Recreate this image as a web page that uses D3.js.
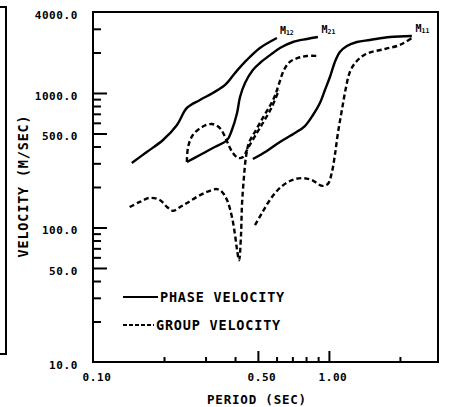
<!DOCTYPE html>
<html>
  <head>
    <meta charset="UTF-8">
    <script src="https://d3js.org/d3.v7.min.js"></script>
    <style>
      body{ margin: 0; background: white; }
      text{ font-family: "DejaVu Sans Mono", monospace; font-weight: bold; fill: black; }
      .tick line{ stroke: black; stroke-width: 2; }
      .domain{ stroke: none; }
    </style>
    <title> Velocity vs Period </title>
  </head>
  <body>
    <svg id="plot" width="450" height="407"></svg>
    <script>
      // [period (sec), velocity (m/sec)]
      const m12Phase = [[0.146,302],[0.169,364],[0.198,447],[0.227,578],[0.250,774],[0.284,887],[0.322,1000],
                        [0.363,1147],[0.400,1408],[0.449,1760],[0.510,2161],[0.602,2564]];
      const m21Phase = [[0.250,307],[0.284,346],[0.322,390],[0.370,447],[0.388,531],[0.408,710],[0.420,934],
                        [0.441,1187],[0.476,1483],[0.510,1671],[0.579,1983],[0.620,2161],[0.704,2394],[0.807,2520],[0.898,2608]];
      const m11Phase = [[0.476,323],[0.546,371],[0.620,432],[0.718,504],[0.791,568],[0.856,686],[0.916,843],
                        [0.962,1053],[1.010,1315],[1.060,1701],[1.113,2018],[1.192,2236],[1.314,2394],[1.492,2477],
                        [1.814,2608],[2.247,2654]];
      const m12Group = [[0.143,142],[0.158,155],[0.174,166],[0.192,160],[0.206,142],[0.218,133],[0.234,142],
                        [0.250,152],[0.276,169],[0.304,184],[0.335,193],[0.352,184],[0.370,160],[0.388,120],
                        [0.400,88],[0.408,68],[0.416,57],[0.424,88],[0.428,147],[0.436,233],[0.445,334],
                        [0.458,425],[0.491,531],[0.530,674],[0.562,800],[0.590,950],[0.614,1166],[0.645,1483],
                        [0.683,1701],[0.739,1821],[0.807,1884],[0.898,1884]];
      const m21Group = [[0.250,307],[0.253,397],[0.265,487],[0.290,559],[0.319,588],[0.345,549],[0.363,471],
                        [0.377,404],[0.392,358],[0.412,329],[0.432,334],[0.454,390],[0.495,504],[0.525,598],
                        [0.573,787],[0.614,1053]];
      const m11Group = [[0.486,104],[0.520,128],[0.562,160],[0.620,197],[0.697,225],[0.768,233],[0.847,225],
                        [0.934,204],[0.990,211],[1.030,259],[1.060,346],[1.092,504],[1.135,747],[1.180,1089],
                        [1.227,1433],[1.302,1701],[1.435,1950],[1.728,2124],[2.00,2275],[2.247,2564]];

      const curveNames = [["M","12"],["M","21"],["M","11"]];
      const labelAt = [[0.62,2750],[0.93,2800],[2.33,2850]];

      const yMinorTicks = [20,30,40,60,70,80,90,200,300,400,600,700,800,900,2000,3000];
      const yMajorTicks = [50,100,500,1000];
      const yLabels = [10,50,100,500,1000,4000];
      const xMinorTicks = [0.2,0.3,0.4,0.6,0.7,0.8,0.9,2.0];
      const xMajorTicks = [0.5,1.0];
      const xLabels = [0.1,0.5,1.0];

      const svg = d3.select("svg#plot");
      const margin = {"top": 12, "right": 12, "bottom": 45, "left": 93};
      const chartWidth = 438 - margin.left;
      const chartHeight = 362 - margin.top;

      const xScale = d3.scaleLog().domain([0.1, 2.9]).range([0, chartWidth]);
      const yScale = d3.scaleLog().domain([10, 4000]).range([chartHeight, 0]);

      let plot = svg.append("g")
                    .attr("transform", "translate(" + margin.left + "," + margin.top + ")");

      // left bracket of the page border
      svg.append("path")
         .attr("d", "M0,7 H6 V354 H0")
         .attr("fill", "none").attr("stroke", "black").attr("stroke-width", 2);

      // inward ticks
      plot.append("g").call(d3.axisLeft(yScale).tickValues(yMinorTicks).tickSize(-8).tickFormat(""));
      plot.append("g").call(d3.axisLeft(yScale).tickValues(yMajorTicks).tickSize(-14).tickFormat(""));
      plot.append("g").attr("transform", "translate(0," + chartHeight + ")")
          .call(d3.axisBottom(xScale).tickValues(xMinorTicks).tickSize(-5).tickFormat(""));
      plot.append("g").attr("transform", "translate(0," + chartHeight + ")")
          .call(d3.axisBottom(xScale).tickValues(xMajorTicks).tickSize(-11).tickFormat(""));

      plot.append("rect")
          .attr("width", chartWidth).attr("height", chartHeight)
          .attr("fill", "none").attr("stroke", "black").attr("stroke-width", 2);

      plot.selectAll("text.ylab").data(yLabels).enter()
          .append("text").attr("class", "ylab")
          .attr("x", -15).attr("y", d => yScale(d) + 7)
          .attr("text-anchor", "end").attr("font-size", 11).attr("letter-spacing", 0.6)
          .text(d => d3.format(".1f")(d));

      plot.selectAll("text.xlab").data(xLabels).enter()
          .append("text").attr("class", "xlab")
          .attr("x", d => xScale(d) + 4).attr("y", chartHeight + 19)
          .attr("text-anchor", "middle").attr("font-size", 11).attr("letter-spacing", 0.6)
          .text(d => d3.format(".2f")(d));

      svg.append("text")
         .attr("x", 257).attr("y", 404)
         .attr("text-anchor", "middle").attr("font-size", 12.5).attr("letter-spacing", 0.8)
         .text("PERIOD (SEC)");

      svg.append("text")
         .attr("transform", "translate(28,186) rotate(-90)")
         .attr("text-anchor", "middle").attr("font-size", 13.5).attr("letter-spacing", 0.8)
         .text("VELOCITY (M/SEC)");

      const line = d3.line()
                     .x(d => xScale(d[0]))
                     .y(d => yScale(d[1]))
                     .curve(d3.curveCatmullRom.alpha(0.5));

      const series = [
        {pts: m12Phase, dash: null}, {pts: m21Phase, dash: null}, {pts: m11Phase, dash: null},
        {pts: m12Group, dash: "5,3"}, {pts: m21Group, dash: "5,3"}, {pts: m11Group, dash: "5,3"}
      ];

      plot.selectAll("path.curve").data(series).enter()
          .append("path").attr("class", "curve")
          .attr("d", d => line(d.pts))
          .attr("fill", "none").attr("stroke", "black").attr("stroke-width", 2.4)
          .attr("stroke-dasharray", d => d.dash);

      let names = plot.selectAll("text.mode").data(curveNames).enter()
          .append("text").attr("class", "mode")
          .attr("x", (d, i) => xScale(labelAt[i][0]))
          .attr("y", (d, i) => yScale(labelAt[i][1]))
          .attr("font-size", 10);
      names.append("tspan").text(d => d[0]);
      names.append("tspan").attr("font-size", 6.5).attr("dy", 1).text(d => d[1]);

      // legend
      const legend = [{name: "PHASE VELOCITY", dash: null, y: 297, x2: 158},
                      {name: "GROUP VELOCITY", dash: "4,2", y: 325, x2: 154}];
      legend.forEach(d => {
        svg.append("line")
           .attr("x1", 123).attr("x2", d.x2).attr("y1", d.y).attr("y2", d.y)
           .attr("stroke", "black").attr("stroke-width", 2.2).attr("stroke-dasharray", d.dash);
        svg.append("text")
           .attr("x", d.x2 + 2).attr("y", d.y + 5)
           .attr("font-size", 13.5).attr("letter-spacing", 0.8)
           .text(d.name);
      });
    </script>
  </body>
</html>
